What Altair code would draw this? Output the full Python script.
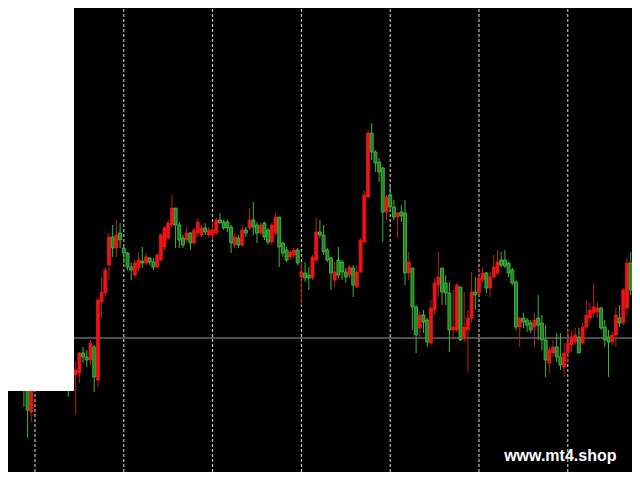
import altair as alt
import pandas as pd

# Candle data (price units)
opens = [120,112,130,122,135,114,108,98,68,95,115,105,125,140,128,110,120,108,105,95,
         105,107,127,123,120,133,100,178,187,215,243,232,247,232,227,213,205,212,219,217,
         222,218,213,220,233,242,255,272,255,242,240,247,237,247,245,252,245,245,247,260,
         258,258,253,235,242,235,250,252,260,255,247,257,250,238,247,263,237,230,223,225,
         230,203,207,205,202,220,248,245,230,222,200,220,218,208,205,212,193,208,238,283,
         347,328,318,312,268,285,273,263,268,267,207,212,173,152,165,160,137,170,195,212,
         197,187,150,150,193,142,150,162,188,187,200,207,192,203,207,220,220,217,210,198,
         153,162,160,157,153,162,157,140,117,127,133,123,113,127,135,138,143,137,153,162,
         167,168,172,153,143,138,145,162,157,172,217,193,203]
highs = [128,135,138,140,142,125,115,105,102,120,125,130,145,150,135,125,130,115,112,115,
         118,128,133,130,140,135,182,203,213,247,255,260,257,233,228,217,220,228,233,227,
         223,222,227,247,254,260,285,272,258,245,253,248,252,262,255,257,253,258,262,267,
         260,260,255,247,245,255,253,272,278,258,257,258,252,257,267,263,238,233,230,232,
         232,218,218,213,225,262,260,255,232,223,218,233,220,212,215,215,215,242,290,350,
         357,330,322,313,285,295,280,268,275,280,228,212,175,168,170,162,180,202,228,212,
         205,198,190,197,193,188,170,208,203,212,213,208,208,225,230,228,230,218,212,200,
         163,167,162,160,167,185,165,155,133,140,147,147,137,150,150,152,152,157,180,177,
         197,178,173,160,150,148,173,175,192,222,228,218,222]
lows = [108,105,118,114,108,95,73,42,58,90,100,95,115,120,105,95,100,92,83,90,
        66,97,117,113,115,88,93,162,183,200,223,223,232,217,210,200,202,208,212,215,
        215,210,212,218,230,240,253,232,232,232,237,230,235,243,243,245,242,240,245,257,
        250,248,227,232,232,233,243,250,245,237,245,240,235,235,245,213,223,218,220,222,
        215,175,198,190,200,218,242,225,218,190,193,202,200,197,202,183,192,207,237,282,
        320,308,298,238,260,268,260,242,258,195,200,150,127,143,147,133,135,165,183,175,
        175,128,140,148,139,138,108,158,170,184,197,187,183,202,205,213,212,203,195,150,
        133,152,148,147,133,140,130,103,107,123,118,110,103,117,128,135,127,135,150,158,
        163,162,150,133,103,135,133,153,155,163,185,190,198]
closes = [112,130,122,135,114,100,92,70,95,115,105,125,140,128,110,120,108,100,95,108,
          110,127,123,120,137,103,180,188,210,243,232,245,240,227,213,210,217,220,217,223,
          218,213,225,245,252,257,272,255,240,235,247,237,250,258,252,248,250,250,260,257,
          252,252,237,243,235,250,247,260,253,247,255,243,238,255,263,233,227,220,228,230,
          217,208,202,202,223,248,245,228,220,207,208,205,208,203,213,195,208,240,285,347,
          328,317,308,268,283,273,263,267,264,207,218,173,145,165,158,138,172,197,203,188,
          187,150,153,195,140,153,162,188,185,202,207,192,203,213,218,215,214,207,197,153,
          162,158,155,150,160,155,140,120,130,133,123,115,127,137,143,145,127,153,165,170,
          173,172,152,140,138,145,165,157,190,217,190,212,218]

separators = [9, 33, 57, 81, 105, 129, 153]   # period separator bars
level_line = 142                               # horizontal price line
bottom_line = 5.5
watermark = "www.mt4.shop"

X_DOMAIN = [-0.459, 172.514]
Y_DOMAIN = [0, 480]

df = pd.DataFrame({"i": list(range(len(opens))), "open": opens, "high": highs,
                   "low": lows, "close": closes})
df["dir"] = ["up" if c >= o else "down" for o, c in zip(opens, closes)]

xs = alt.Scale(domain=X_DOMAIN, nice=False, zero=False, padding=0)
ys = alt.Scale(domain=Y_DOMAIN, nice=False, zero=False, padding=0)
X = lambda f: alt.X(f, type="quantitative", scale=xs, axis=None)
Y = lambda f: alt.Y(f, type="quantitative", scale=ys, axis=None)

base = alt.Chart(df)

grid = alt.Chart(pd.DataFrame({"i": separators, "y0": [8] * 7, "y1": [480] * 7})).mark_rule(
    color="#e0e0e0", strokeWidth=1, strokeDash=[3, 2]
).encode(x=X("i"), y=Y("y0"), y2="y1")

hline = alt.Chart(pd.DataFrame({"p": [level_line]})).mark_rule(
    color="#9a9a9a", strokeWidth=1
).encode(y=Y("p"))

bline = alt.Chart(pd.DataFrame({"p": [bottom_line]})).mark_rule(
    color="#9a9a9a", strokeWidth=2
).encode(y=Y("p"))

wicks = base.mark_rule(strokeWidth=1).encode(
    x=X("i"), y=Y("low"), y2="high",
    color=alt.Color("dir:N", scale=alt.Scale(domain=["up", "down"], range=["#b82020", "#3ab83a"]), legend=None),
)

bodies = base.mark_bar(width=3, strokeWidth=0.8).encode(
    x=X("i"), y=Y("open"), y2="close",
    fill=alt.Fill("dir:N", scale=alt.Scale(domain=["up", "down"], range=["#ee1414", "#248224"]), legend=None),
    stroke=alt.Stroke("dir:N", scale=alt.Scale(domain=["up", "down"], range=["#ee1414", "#44c844"]), legend=None),
)

box = alt.Chart(pd.DataFrame({"x0": [-2], "x1": [19.54], "y0": [89], "y1": [490]})).mark_rect(
    color="white"
).encode(x=X("x0"), x2="x1", y=Y("y0"), y2="y1")

text = alt.Chart(pd.DataFrame({"x": [135.8], "y": [19], "t": [watermark]})).mark_text(
    align="left", baseline="alphabetic", font="Liberation Sans", fontWeight="bold",
    fontSize=16, color="white"
).encode(x=X("x"), y=Y("y"), text="t:N")

chart = alt.layer(grid, hline, wicks, bodies, box, bline, text).properties(
    width=640, height=480,
    padding={"left": -8, "top": -8, "right": -8, "bottom": -8},
    autosize=alt.AutoSizeParams(type="none"),
    background="black",
).configure_view(stroke=None)

chart.save("out.html", embed_options={"renderer": "svg", "actions": False})
